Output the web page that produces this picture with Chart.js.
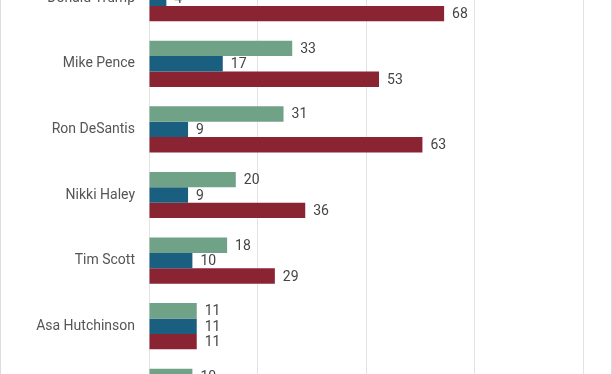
<!DOCTYPE html>
<html>
<head>
<meta charset="utf-8">
<script src="https://cdn.jsdelivr.net/npm/chart.js@4/dist/chart.umd.min.js"></script>
<style>
  html, body { margin: 0; padding: 0; background: #fff; }
  #frame {
    position: relative;
    width: 610px;
    height: 374px;
    overflow: hidden;
    border-left: 1px solid #dcdcdc;
    border-right: 1px solid #dcdcdc;
  }
  /* the picture is a crop: the axis pads ~22px above and below the plot */
  #wrap {
    position: absolute;
    left: 0;
    top: -57px;
    width: 610px;
    height: 504px;
  }
</style>
</head>
<body>
<div id="frame">
  <div id="wrap"><canvas id="chart"></canvas></div>
</div>
<script>
// Data (null = not visible in the crop)
const candidates = ['Donald Trump', 'Mike Pence', 'Ron DeSantis', 'Nikki Haley', 'Tim Scott', 'Asa Hutchinson', 'Chris Christie'];
const seriesNames = ['All', 'Democrats', 'Republicans'];
const allValues = [null, 33, 31, 20, 18, 11, 10];
const demValues = [4, 17, 9, 9, 10, 11, null];
const repValues = [68, 53, 63, 36, 29, 11, null];
const xTicks = [0, 25, 50, 75, 100];

const colors = ['#70a288', '#1a5e80', '#8a2433'];

// Value labels at the end of each bar
const barLabels = {
    id: 'barLabels',
    afterDatasetsDraw(chart) {
        const ctx = chart.ctx;
        ctx.save();
        ctx.font = '14px Roboto';
        ctx.fillStyle = '#444';
        ctx.textAlign = 'left';
        ctx.textBaseline = 'middle';
        chart.data.datasets.forEach((ds, i) => {
            const meta = chart.getDatasetMeta(i);
            meta.data.forEach((bar, j) => {
                const v = ds.data[j];
                if (v === null) return;
                ctx.fillText(String(v), bar.x + 8, bar.y + 1);
            });
        });
        ctx.restore();
    }
};

const ctx = document.getElementById('chart').getContext('2d');
new Chart(ctx, {
    type: 'bar',
    data: {
        labels: candidates,
        datasets: [allValues, demValues, repValues].map((vals, i) => ({
            label: seriesNames[i],
            data: vals,
            backgroundColor: colors[i],
            borderWidth: 0,
            categoryPercentage: 0.705,
            barPercentage: 1.0
        }))
    },
    options: {
        indexAxis: 'y',
        responsive: true,
        maintainAspectRatio: false,
        animation: false,
        layout: { padding: { left: 0, right: 28, top: 0, bottom: 0 } },
        plugins: {
            legend: { display: false },
            tooltip: { enabled: false }
        },
        scales: {
            x: {
                min: 0,
                max: 100,
                afterBuildTicks: (scale) => {
                    scale.ticks = xTicks.map(v => ({ value: v }));
                },
                ticks: { display: false },
                grid: { color: '#e3e3e3', drawTicks: false },
                border: { display: false }
            },
            y: {
                afterFit: (scale) => { scale.width = 148; },
                ticks: {
                    color: '#555',
                    font: { family: 'Roboto', size: 14 },
                    padding: 14
                },
                grid: { display: false, drawTicks: false },
                border: { display: false }
            }
        }
    },
    plugins: [barLabels]
});
</script>
</body>
</html>
